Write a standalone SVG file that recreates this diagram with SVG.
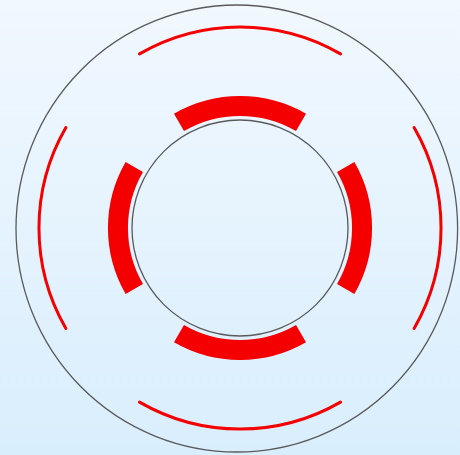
<svg xmlns="http://www.w3.org/2000/svg" width="460" height="455" viewBox="0 0 460 455">
<defs>
<linearGradient id="bg" x1="0" y1="0" x2="0" y2="1">
<stop offset="0" stop-color="#f1f8fe"/>
<stop offset="1" stop-color="#d9eefd"/>
</linearGradient>
<style>
.ring{fill:none;stroke:#5a5a5a;stroke-width:1.3}
.thick{fill:none;stroke:#f40000;stroke-width:20}
.thin{fill:none;stroke:#f40000;stroke-width:3;stroke-linecap:round}
</style>
</defs>
<rect width="460" height="455" fill="url(#bg)"/>
<g id="outer-ring">
<ellipse class="ring" cx="236.8" cy="228.5" rx="220.8" ry="223.5"/>
</g>
<g id="inner-ring">
<circle class="ring" cx="240" cy="228" r="108"/>
</g>
<g id="thick-arcs">
<path class="thick" d="M179,122.3 A122,122 0 0 1 301,122.3"/>
<path class="thick" d="M301,333.7 A122,122 0 0 1 179,333.7"/>
<path class="thick" d="M134.3,167 A122,122 0 0 0 134.3,289"/>
<path class="thick" d="M345.7,167 A122,122 0 0 1 345.7,289"/>
</g>
<g id="thin-arcs">
<path class="thin" d="M139.5,53.9 A201,201 0 0 1 340.5,53.9"/>
<path class="thin" d="M340.5,402.1 A201,201 0 0 1 139.5,402.1"/>
<path class="thin" d="M65.9,127.5 A201,201 0 0 0 65.9,328.5"/>
<path class="thin" d="M414.1,127.5 A201,201 0 0 1 414.1,328.5"/>
</g>
</svg>
